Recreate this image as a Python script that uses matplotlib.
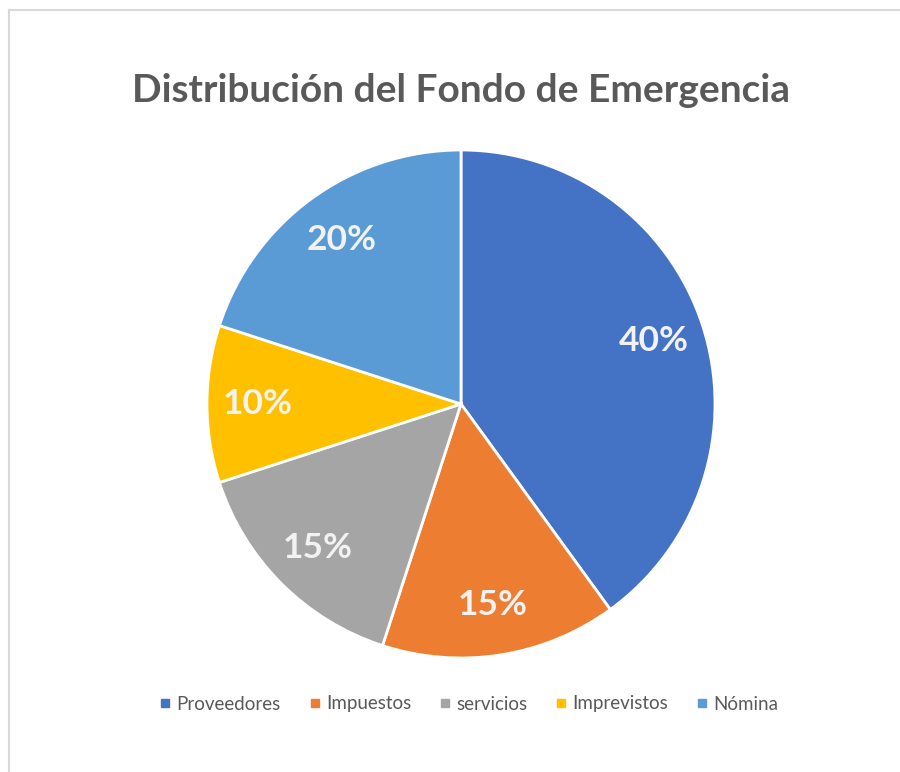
import matplotlib.pyplot as plt
from matplotlib.lines import Line2D

categories = ["Proveedores", "Impuestos", "servicios", "Imprevistos", "Nómina"]
values = [40, 15, 15, 10, 20]
colors = ["#4472C4", "#ED7D31", "#A5A5A5", "#FFC000", "#5B9BD5"]
title = "Distribución del Fondo de Emergencia"

plt.rcParams['font.family'] = ['Lato', 'DejaVu Sans']

fig = plt.figure(figsize=(9, 7.72), dpi=100)
W, H = 900, 772
cx, cy, r = 461, 404, 254
ax = fig.add_axes([(cx - r) / W, (H - cy - r) / H, 2 * r / W, 2 * r / H])

wedges, texts, autotexts = ax.pie(
    values, colors=colors, startangle=90, counterclock=False,
    autopct='%1.0f%%', pctdistance=0.8,
    wedgeprops=dict(edgecolor='white', linewidth=2),
    textprops=dict(color='#F2F2F2', fontsize=25.5, fontweight='bold'))
for w in wedges:
    w.set_clip_on(False)
ax.set_xlim(-1, 1)
ax.set_ylim(-1, 1)
ax.set_aspect('equal')

fig.text(cx / W, 1 - 91 / H, title, ha='center', va='center',
         fontsize=28, fontweight='bold', color='#595959')

handles = [Line2D([], [], marker='s', linestyle='none', color=c, markersize=6)
           for c in colors]
fig.legend(handles, categories, loc='center', bbox_to_anchor=(467 / W, 1 - 704 / H),
           ncol=5, frameon=False, fontsize=13.5, labelcolor='#595959',
           handletextpad=0.1, columnspacing=1.3, handlelength=1.0)

# chart area border
fig.add_artist(Line2D([9 / W, 9 / W], [0, 1 - 10 / H], color='#D9D9D9', lw=1.5))
fig.add_artist(Line2D([9 / W, 1], [1 - 10 / H, 1 - 10 / H], color='#D9D9D9', lw=1.5))

fig.savefig('out.png', dpi=100)
